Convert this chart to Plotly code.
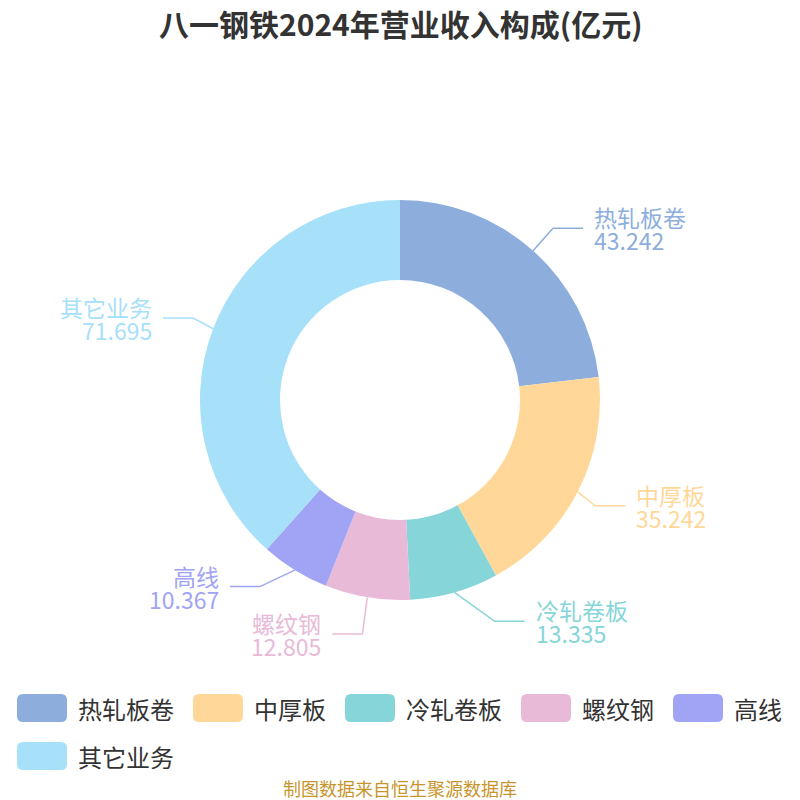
import math
import plotly.graph_objects as go

# ---- data ----
categories = ["热轧板卷", "中厚板", "冷轧卷板", "螺纹钢", "高线", "其它业务"]
values = [43.242, 35.242, 13.335, 12.805, 10.367, 71.695]
colors = ["#8DAEDC", "#FFD899", "#86D5D8", "#E8BAD8", "#A1A4F4", "#A7E0F9"]
title_text = "八一钢铁2024年营业收入构成(亿元)"
source_text = "制图数据来自恒生聚源数据库"

# ---- geometry (pixels) ----
W = H = 800
CX, CY, R = 400, 400, 200
ELBOW_R = 230
SEG2 = 30
GAP = 9
FONT = "Noto Sans CJK SC"
# small nudges of label elbows (layout only)
elbow_nudge = {"中厚板": (-9, 0), "冷轧卷板": (32, 0), "螺纹钢": (0, 7),
               "高线": (-19, -9), "其它业务": (8, 0)}

fig = go.Figure()
fig.add_trace(go.Pie(
    labels=categories, values=values, hole=0.6, sort=False,
    direction="clockwise", rotation=0,
    marker=dict(colors=colors, line=dict(width=0)),
    textinfo="none", hoverinfo="label+value",
    domain=dict(x=[0, 1], y=[0.25, 0.75]), showlegend=False,
))

annotations = []
shapes = []
total = sum(values)
cum = 0.0
for name, v, c in zip(categories, values, colors):
    mid = (cum + v / 2) / total * 2 * math.pi
    cum += v
    sx, sy = CX + R * math.sin(mid), CY - R * math.cos(mid)
    ex, ey = CX + ELBOW_R * math.sin(mid), CY - ELBOW_R * math.cos(mid)
    dx, dy = elbow_nudge.get(name, (0, 0))
    ex += dx
    ey += dy
    right = math.sin(mid) >= 0
    hx = ex + SEG2 if right else ex - SEG2
    fig.add_trace(go.Scatter(x=[sx, ex, hx], y=[sy, ey, ey], mode="lines",
                             line=dict(color=c, width=1.5), hoverinfo="skip",
                             showlegend=False))
    tx = hx + GAP if right else hx - GAP
    anchor = "left" if right else "right"
    annotations.append(dict(x=tx, y=ey - 11, xref="x", yref="y", text=name,
                            showarrow=False, xanchor=anchor, yanchor="middle",
                            font=dict(family=FONT, size=23, color=c)))
    annotations.append(dict(x=tx, y=ey + 12, xref="x", yref="y", text=f"{v:.3f}",
                            showarrow=False, xanchor=anchor, yanchor="middle",
                            font=dict(family=FONT, size=23, color=c)))

# ---- title & source ----
annotations.append(dict(x=400, y=23, xref="x", yref="y", text=f"<b>{title_text}</b>",
                        showarrow=False, xanchor="center", yanchor="middle",
                        font=dict(family=FONT, size=30, color="#333333")))
annotations.append(dict(x=400, y=788, xref="x", yref="y", text=source_text,
                        showarrow=False, xanchor="center", yanchor="middle",
                        font=dict(family=FONT, size=18, color="#C8952C")))


# ---- manual legend ----
def rrect(x0, y0, x1, y1, r):
    return (f"M{x0+r},{y0} H{x1-r} Q{x1},{y0} {x1},{y0+r} V{y1-r} "
            f"Q{x1},{y1} {x1-r},{y1} H{x0+r} Q{x0},{y1} {x0},{y1-r} "
            f"V{y0+r} Q{x0},{y0} {x0+r},{y0} Z")


LX0, LY0 = 17, 708
SW, SH = 50, 28
LFS = 24
ROW_H = 48
x, y = LX0, LY0
for name, c in zip(categories, colors):
    item_w = SW + 10 + LFS * len(name)
    if x + item_w > 790:
        x = LX0
        y += ROW_H
    shapes.append(dict(type="path", xref="x", yref="y",
                       path=rrect(x, y - SH / 2, x + SW, y + SH / 2, 6),
                       fillcolor=c, line=dict(width=0)))
    annotations.append(dict(x=x + SW + 9, y=y, xref="x", yref="y", text=name,
                            showarrow=False, xanchor="left", yanchor="middle",
                            font=dict(family=FONT, size=LFS, color="#333333")))
    x += item_w + 20

fig.update_layout(
    width=W, height=H, margin=dict(l=0, r=0, t=0, b=0),
    paper_bgcolor="white", plot_bgcolor="white", showlegend=False,
    xaxis=dict(range=[0, W], visible=False, domain=[0, 1], fixedrange=True),
    yaxis=dict(range=[H, 0], visible=False, domain=[0, 1], fixedrange=True),
    annotations=annotations, shapes=shapes,
)
fig.write_html("out.html")
